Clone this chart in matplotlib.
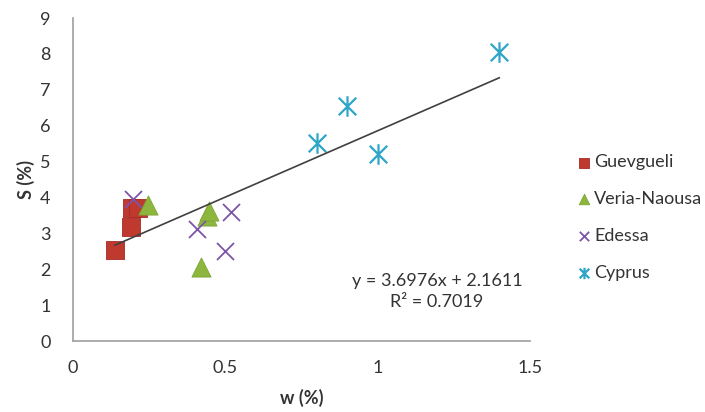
import matplotlib
matplotlib.use("Agg")
import matplotlib.pyplot as plt
from matplotlib.path import Path
import numpy as np

# data
guev_w = [0.138, 0.19, 0.195, 0.215]
guev_s = [2.53, 3.18, 3.71, 3.71]
veria_w = [0.247, 0.44, 0.446, 0.419]
veria_s = [3.78, 3.47, 3.62, 2.06]
edessa_w = [0.198, 0.408, 0.52, 0.499]
edessa_s = [3.96, 3.12, 3.6, 2.5]
cyprus_w = [0.8, 0.898, 1.0, 1.399]
cyprus_s = [5.52, 6.54, 5.22, 8.04]

slope = 3.6976
intercept = 2.1611
r2 = 0.7019

plt.rcParams["font.family"] = ["Lato", "DejaVu Sans"]
text_col = "#333333"
fs = 13

# excel-like star: an x with a vertical bar
star = Path([(0, -1), (0, 1), (-0.85, -0.85), (0.85, 0.85), (-0.85, 0.85), (0.85, -0.85)],
            [Path.MOVETO, Path.LINETO] * 3)

fig = plt.figure(figsize=(7.05, 4.12), dpi=100)
ax = fig.add_axes([0.1035, 0.1723, 0.6483, 0.784])

ax.scatter(guev_w, guev_s, marker="s", s=150, color="#C0392F", edgecolors="#A82A25",
           linewidths=0.6, label="Guevgueli", zorder=3)
ax.scatter(veria_w, veria_s, marker="^", s=190, color="#8DB63E", edgecolors="#7CA535",
           linewidths=0.6, label="Veria-Naousa", zorder=3)
ax.scatter(edessa_w, edessa_s, marker="x", s=150, color="#7D55A8", linewidths=1.3,
           label="Edessa", zorder=3)
ax.scatter(cyprus_w, cyprus_s, marker=star, s=220, color="#2FA6C8", linewidths=1.6,
           label="Cyprus", zorder=3)

# linear trendline over the range of all points
all_w = np.array(guev_w + veria_w + edessa_w + cyprus_w)
xs = np.array([all_w.min(), all_w.max()])
ax.plot(xs, slope * xs + intercept, color="#404040", lw=1.2, zorder=4)

ax.text(1.195, 1.38, "y = %.4fx + %.4f\nR² = %.4f" % (slope, intercept, r2),
        ha="center", va="center", fontsize=fs, color=text_col, linespacing=1.4)

ax.set_xlim(0, 1.5)
ax.set_ylim(0, 9)
ax.set_xticks([0, 0.5, 1, 1.5])
ax.set_xticklabels(["0", "0.5", "1", "1.5"])
ax.set_yticks(range(10))
ax.tick_params(length=0, labelsize=fs, colors=text_col)
ax.tick_params(axis="x", pad=14)
ax.tick_params(axis="y", pad=16)
for side in ["top", "right"]:
    ax.spines[side].set_visible(False)
for side in ["left", "bottom"]:
    ax.spines[side].set_color("#A6A6A6")
    ax.spines[side].set_linewidth(1.3)

ax.set_xlabel("w (%)", fontsize=fs, fontweight="bold", color=text_col, labelpad=9)
ax.set_ylabel("S (%)", fontsize=fs, fontweight="bold", color=text_col, labelpad=4)

leg = fig.legend(loc="upper left", bbox_to_anchor=(0.793, 0.665), frameon=False,
                 fontsize=fs, labelspacing=1.15, handletextpad=0.05,
                 handlelength=1.0, markerscale=0.55, labelcolor=text_col)

fig.savefig("out.png", dpi=100)
